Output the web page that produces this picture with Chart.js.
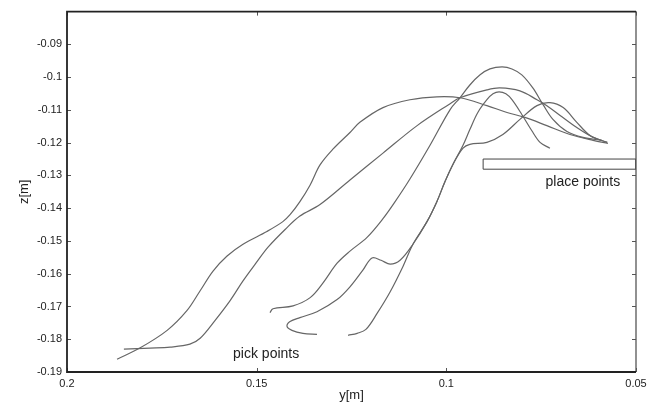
<!DOCTYPE html>
<html lang="en">
<head>
    <meta charset="UTF-8">
    <title>Pick and place paths</title>
    <style>
        body {
            margin: 0;
            padding: 0;
            background-color: #fff;
        }

        .chart-box {
            width: 656px;
            height: 405px;
        }
    </style>
</head>
<body>
<div class="chart-box">
    <canvas id="pathChart" width="656" height="405"></canvas>
</div>
<script src="https://cdn.jsdelivr.net/npm/chart.js"></script>
<script>
    // tick labels
    const xTicks = [0.2, 0.15, 0.1, 0.05];
    const yTicks = [-0.19, -0.18, -0.17, -0.16, -0.15, -0.14, -0.13, -0.12, -0.11, -0.1, -0.09];

    // paths: y[m] values and matching z[m] values
    const path1Y = [0.1868, 0.1808, 0.1736, 0.1684, 0.1649, 0.1615, 0.1578, 0.1536, 0.1473, 0.1431, 0.1412, 0.1386, 0.1359, 0.1333, 0.1299, 0.1254, 0.1228, 0.1167, 0.1096, 0.1025, 0.0964, 0.0893, 0.0840, 0.0793, 0.0735, 0.0674, 0.0613, 0.0574];
    const path1Z = [-0.1861, -0.1827, -0.1773, -0.1713, -0.1652, -0.1592, -0.1546, -0.1510, -0.1471, -0.1441, -0.1420, -0.1380, -0.1329, -0.1268, -0.1220, -0.1169, -0.1138, -0.1093, -0.1069, -0.1060, -0.1063, -0.1087, -0.1108, -0.1123, -0.1148, -0.1175, -0.1193, -0.1202];

    const path2Y = [0.1850, 0.1781, 0.1728, 0.1676, 0.1649, 0.1610, 0.1570, 0.1536, 0.1502, 0.1470, 0.1425, 0.1386, 0.1333, 0.1254, 0.1167, 0.1077, 0.0990, 0.0964, 0.0893, 0.0859, 0.0806, 0.0761, 0.0735, 0.0700, 0.0656, 0.0613, 0.0576];
    const path2Z = [-0.1830, -0.1827, -0.1824, -0.1815, -0.1797, -0.1743, -0.1682, -0.1622, -0.1568, -0.1519, -0.1465, -0.1424, -0.1389, -0.1314, -0.1232, -0.1148, -0.1081, -0.1063, -0.1039, -0.1033, -0.1042, -0.1069, -0.1087, -0.1117, -0.1154, -0.1184, -0.1199];

    const path3Y = [0.1465, 0.1457, 0.1404, 0.1359, 0.1325, 0.1288, 0.1254, 0.1209, 0.1167, 0.1135, 0.1096, 0.1043, 0.0990, 0.0964, 0.0938, 0.0911, 0.0885, 0.0853, 0.0827, 0.0801, 0.0772, 0.0745, 0.0719, 0.0682, 0.0640, 0.0590];
    const path3Z = [-0.1719, -0.1707, -0.1698, -0.1673, -0.1628, -0.1568, -0.1531, -0.1489, -0.1432, -0.1380, -0.1311, -0.1208, -0.1099, -0.1063, -0.1024, -0.0993, -0.0975, -0.0969, -0.0975, -0.0993, -0.1033, -0.1084, -0.1129, -0.1166, -0.1184, -0.1193];

    const path4Y = [0.1341, 0.1378, 0.1407, 0.1420, 0.1412, 0.1386, 0.1341, 0.1288, 0.1254, 0.1220, 0.1196, 0.1172, 0.1148, 0.1122, 0.1088, 0.1051, 0.1025, 0.1004, 0.0982, 0.0956, 0.0938, 0.0893, 0.0851, 0.0806, 0.0761, 0.0727, 0.0692, 0.0656, 0.0621, 0.0576];
    const path4Z = [-0.1785, -0.1782, -0.1773, -0.1761, -0.1746, -0.1734, -0.1716, -0.1679, -0.1640, -0.1589, -0.1552, -0.1559, -0.1571, -0.1559, -0.1510, -0.1441, -0.1380, -0.1320, -0.1265, -0.1217, -0.1205, -0.1199, -0.1175, -0.1129, -0.1087, -0.1078, -0.1093, -0.1138, -0.1178, -0.1199];

    const path5Y = [0.1259, 0.1235, 0.1212, 0.1183, 0.1148, 0.1114, 0.1088, 0.1051, 0.1025, 0.1004, 0.0982, 0.0956, 0.0938, 0.0917, 0.0893, 0.0877, 0.0861, 0.0843, 0.0827, 0.0801, 0.0775, 0.0753, 0.0727];
    const path5Z = [-0.1788, -0.1782, -0.1770, -0.1722, -0.1655, -0.1577, -0.1510, -0.1441, -0.1380, -0.1320, -0.1265, -0.1208, -0.1160, -0.1108, -0.1069, -0.1051, -0.1045, -0.1051, -0.1069, -0.1114, -0.1163, -0.1199, -0.1217];

    // place points box corners
    const boxY = [0.0903, 0.05, 0.05, 0.0903, 0.0903];
    const boxZ = [-0.1250, -0.1250, -0.1281, -0.1281, -0.1250];

    // text notes
    const noteText = ['pick points', 'place points'];
    const noteY = [0.1475, 0.0640];
    const noteZ = [-0.1846, -0.1320];

    const fontFamily = '"Liberation Sans", Arial, sans-serif';

    function toPoints(ys, zs) {
        return ys.map((y, i) => ({x: y, y: zs[i]}));
    }

    function pathSet(ys, zs) {
        return {
            data: toPoints(ys, zs),
            showLine: true,
            borderColor: '#666',
            borderWidth: 1.2,
            pointRadius: 0,
            tension: 0.35,
            fill: false
        };
    }

    function fmt(v) {
        return String(Number(v.toFixed(3)));
    }

    // frame, inward ticks and notes
    const framePlugin = {
        id: 'frame',
        afterDraw(chart) {
            const ctx = chart.ctx;
            const area = chart.chartArea;
            const xs = chart.scales.x;
            const ys = chart.scales.y;
            ctx.save();

            ctx.strokeStyle = '#555';
            ctx.lineWidth = 1;
            ctx.beginPath();
            xTicks.forEach(v => {
                const px = Math.round(xs.getPixelForValue(v)) + 0.5;
                ctx.moveTo(px, area.bottom);
                ctx.lineTo(px, area.bottom - 4);
                ctx.moveTo(px, area.top);
                ctx.lineTo(px, area.top + 4);
            });
            yTicks.forEach(v => {
                const py = Math.round(ys.getPixelForValue(v)) + 0.5;
                ctx.moveTo(area.left, py);
                ctx.lineTo(area.left + 4, py);
                ctx.moveTo(area.right, py);
                ctx.lineTo(area.right - 4, py);
            });
            ctx.stroke();

            ctx.strokeStyle = '#555';
            ctx.lineWidth = 1.3;
            ctx.beginPath();
            ctx.moveTo(area.right, area.top);
            ctx.lineTo(area.right, area.bottom);
            ctx.stroke();

            ctx.strokeStyle = '#222';
            ctx.lineWidth = 1.8;
            ctx.beginPath();
            ctx.moveTo(area.right, area.top);
            ctx.lineTo(area.left, area.top);
            ctx.lineTo(area.left, area.bottom);
            ctx.lineTo(area.right, area.bottom);
            ctx.stroke();

            ctx.fillStyle = '#222';
            ctx.font = '14px ' + fontFamily;
            ctx.textAlign = 'center';
            ctx.textBaseline = 'middle';
            noteText.forEach((t, i) => {
                ctx.fillText(t, xs.getPixelForValue(noteY[i]), ys.getPixelForValue(noteZ[i]));
            });
            ctx.restore();
        }
    };

    new Chart(document.getElementById('pathChart').getContext('2d'), {
        type: 'scatter',
        data: {
            datasets: [
                pathSet(path1Y, path1Z),
                pathSet(path2Y, path2Z),
                pathSet(path3Y, path3Z),
                pathSet(path4Y, path4Z),
                pathSet(path5Y, path5Z),
                {
                    data: toPoints(boxY, boxZ),
                    showLine: true,
                    borderColor: '#444',
                    borderWidth: 1,
                    pointRadius: 0,
                    tension: 0,
                    fill: false
                }
            ]
        },
        options: {
            responsive: false,
            animation: false,
            devicePixelRatio: 1,
            layout: {
                padding: {top: 8, right: 20, left: 0, bottom: 0}
            },
            plugins: {
                legend: {display: false},
                tooltip: {enabled: false}
            },
            scales: {
                x: {
                    type: 'linear',
                    min: 0.05,
                    max: 0.2,
                    reverse: true,
                    afterBuildTicks: scale => {
                        scale.ticks = xTicks.map(v => ({value: v}));
                    },
                    afterFit: scale => {
                        scale.height = 33;
                    },
                    grid: {display: false, drawTicks: false},
                    border: {display: false},
                    ticks: {
                        padding: 5,
                        maxRotation: 0,
                        autoSkip: false,
                        color: '#222',
                        font: {family: fontFamily, size: 11},
                        callback: v => fmt(v)
                    },
                    title: {
                        display: true,
                        text: 'y[m]',
                        color: '#222',
                        padding: {top: 0, bottom: 2},
                        font: {family: fontFamily, size: 13}
                    }
                },
                y: {
                    type: 'linear',
                    min: -0.19,
                    max: -0.08,
                    afterBuildTicks: scale => {
                        scale.ticks = yTicks.map(v => ({value: v}));
                    },
                    afterFit: scale => {
                        scale.width = 67;
                    },
                    grid: {display: false, drawTicks: false},
                    border: {display: false},
                    ticks: {
                        padding: 5,
                        autoSkip: false,
                        color: '#222',
                        font: {family: fontFamily, size: 11},
                        callback: v => fmt(v)
                    },
                    title: {
                        display: true,
                        text: 'z[m]',
                        color: '#222',
                        padding: {top: 17, bottom: 0},
                        font: {family: fontFamily, size: 13}
                    }
                }
            }
        },
        plugins: [framePlugin]
    });
</script>
</body>
</html>
